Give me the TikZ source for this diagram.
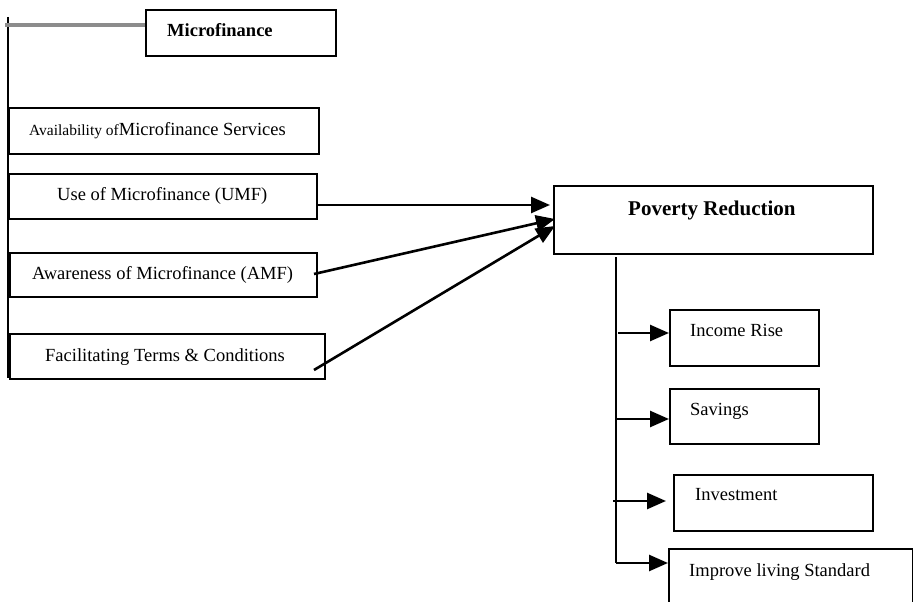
\documentclass[tikz,border=0pt]{standalone}
\usepackage{fontspec}
\setmainfont{Liberation Serif}
\usetikzlibrary{arrows.meta,calc}
\begin{document}
\begin{tikzpicture}[x=1pt,y=-1pt,
  box/.style={draw=black,line width=1.9pt,anchor=north west,inner sep=0pt},
  txt/.style={anchor=base west,inner sep=0pt,font=\fontsize{18.5}{20}\selectfont},
  btxt/.style={anchor=base west,inner sep=0pt,font=\fontsize{18.5}{20}\selectfont\bfseries},
  arr/.style={line width=2.6pt,-{Triangle[length=19pt,width=16pt]}},
  vline/.style={line width=2pt}]
\useasboundingbox (0,0) rectangle (913,602);
\clip (0,0) rectangle (913,602);
% left boxes
\node[box,minimum width=190pt,minimum height=46pt] (mf) at (145,9) {};
\node[box,minimum width=310pt,minimum height=46pt] (av) at (8,107) {};
\node[box,minimum width=308pt,minimum height=45pt] (use) at (8,173) {};
\node[box,minimum width=307pt,minimum height=44pt] (aw) at (9,252) {};
\node[box,minimum width=315pt,minimum height=45pt] (ft) at (9,333) {};
% right boxes
\node[box,minimum width=319pt,minimum height=68pt] (pov) at (553,185) {};
\node[box,minimum width=149pt,minimum height=56pt] (inc) at (669,309) {};
\node[box,minimum width=149pt,minimum height=55pt] (sav) at (669,388) {};
\node[box,minimum width=199pt,minimum height=56pt] (inv) at (673,474) {};
\node[box,minimum width=244pt,minimum height=70pt] (imp) at (668,548) {};
% texts
\node[btxt] (tmf) at (167,36.7) {Microfinance};
\node[txt] (tav) at (29,135) {{\fontsize{15.5}{17}\selectfont Availability of}Microfinance Services};
\node[txt] (tuse) at (57,200) {Use of Microfinance (UMF)};
\node[txt] (taw) at (32,279) {Awareness of Microfinance (AMF)};
\node[txt] (tft) at (45,361.7) {Facilitating Terms \& Conditions};
\node[btxt,font=\fontsize{21}{23}\selectfont\bfseries] (tpov) at (628,215) {Poverty Reduction};
\node[txt] (tinc) at (690,336.7) {Income Rise};
\node[txt] (tsav) at (690,415) {Savings};
\node[txt] (tinv) at (695,500.7) {Investment};
\node[txt] (timp) at (689,576.7) {Improve living Standard};
% left spine and gray link
\coordinate (ltop) at (8,17);
\coordinate (lbot) at (8,378);
\draw[vline,line width=2.2pt] (ltop) -- (lbot);
\coordinate (gstart) at (5,25);
\draw[line width=3.5pt,color=black!45] (gstart) -- (mf.west |- gstart);
% arrows into Poverty Reduction
\coordinate (p1) at (550,205);
\coordinate (p2) at (555,219);
\coordinate (p3) at (555,226);
\coordinate (a2) at (314,274);
\coordinate (a3) at (314,370);
\draw[arr] (use.east |- p1) -- (p1);
\draw[arr] (a2) -- (p2);
\draw[arr] (a3) -- (p3);
% right spine
\coordinate (rtop) at (616,257);
\coordinate (rbot) at (616,563);
\draw[vline] (rtop) -- (rbot);
\coordinate (b1) at (618,333);
\coordinate (b2) at (616,419);
\coordinate (b3) at (613,501);
\draw[arr] (b1) -- (inc.west |- b1);
\draw[arr] (b2) -- (sav.west |- b2);
\draw[arr] (b3) -- ($(inv.west |- b3)+(-7,0)$);
\draw[arr] (rbot) -- (imp.west |- rbot);
\end{tikzpicture}
\end{document}
